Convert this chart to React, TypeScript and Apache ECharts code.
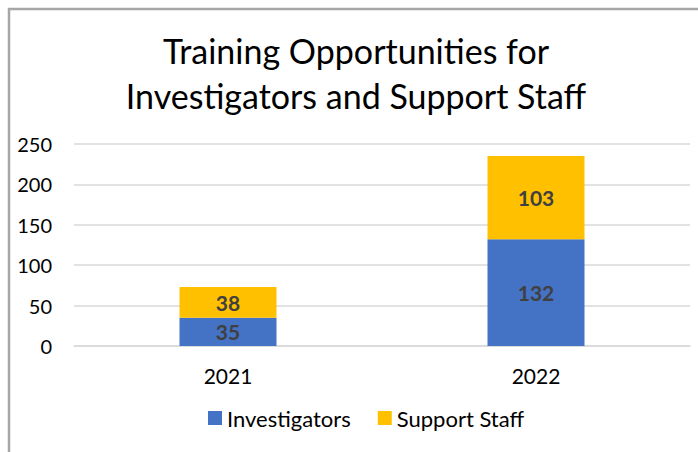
import React, { useEffect, useRef } from "react";
import * as echarts from "echarts";

const categories = ["2021", "2022"];
const investigators = [35, 132];
const supportStaff = [38, 103];
const titleText = "Training Opportunities for\nInvestigators and Support Staff";

export default function App() {
  const ref = useRef<HTMLDivElement>(null);
  useEffect(() => {
    const chart = echarts.init(ref.current!, null, { renderer: "svg" });
    const font = "Lato, 'Open Sans', sans-serif";
    chart.setOption({
      animation: false,
      backgroundColor: "#ffffff",
      textStyle: { fontFamily: font },
      graphic: [
        {
          type: "rect",
          shape: { x: 9, y: 9, width: 720, height: 480 },
          style: { fill: "none", stroke: "#a6a6a6", lineWidth: 2.5 },
          silent: true,
        },
        {
          type: "text",
          x: 356,
          y: 28,
          silent: true,
          style: {
            text: titleText,
            align: "center",
            verticalAlign: "top",
            fontFamily: font,
            fontSize: 34,
            fontWeight: "normal",
            lineHeight: 45,
            fill: "#000",
          },
        },
      ],
      legend: {
        data: ["Investigators", "Support Staff"],
        left: 203,
        top: 402,
        itemWidth: 14,
        itemHeight: 14,
        itemGap: 27,
        icon: "rect",
        textStyle: { fontFamily: font, fontSize: 22, color: "#000" },
      },
      grid: { left: 74, right: 8, top: 144, bottom: 106, containLabel: false },
      xAxis: {
        type: "category",
        data: categories,
        axisLine: { lineStyle: { color: "#d9d9d9", width: 1.5 } },
        axisTick: { show: false },
        axisLabel: { fontFamily: font, fontSize: 21, color: "#000", margin: 19 },
      },
      yAxis: {
        type: "value",
        min: 0,
        max: 250,
        interval: 50,
        axisLine: { show: false },
        axisTick: { show: false },
        splitLine: { lineStyle: { color: "#d9d9d9", width: 1.5 } },
        axisLabel: { fontFamily: font, fontSize: 20, color: "#000", margin: 22 },
      },
      series: [
        {
          name: "Investigators",
          type: "bar",
          stack: "total",
          data: investigators,
          barWidth: 97,
          itemStyle: { color: "#4472C4" },
          label: { show: true, position: "inside", fontFamily: font, fontSize: 21, fontWeight: "bold", color: "#404040" },
        },
        {
          name: "Support Staff",
          type: "bar",
          stack: "total",
          data: supportStaff,
          barWidth: 97,
          itemStyle: { color: "#FFC000" },
          label: { show: true, position: "inside", fontFamily: font, fontSize: 21, fontWeight: "bold", color: "#404040" },
        },
      ],
    });
    return () => chart.dispose();
  }, []);
  return <div ref={ref} style={{ position: "fixed", left: 0, top: 0, width: 698, height: 452 }} />;
}
